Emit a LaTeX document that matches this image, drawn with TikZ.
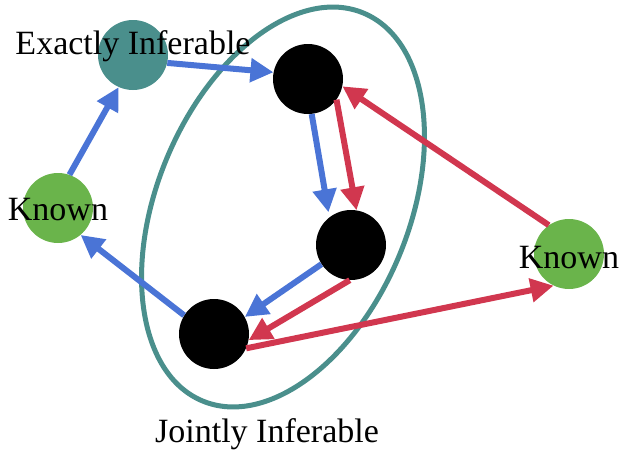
\documentclass[tikz,border=0pt]{standalone}
\usepackage{fontspec}
\setmainfont{Liberation Serif}
\usetikzlibrary{arrows.meta}
\definecolor{teal1}{HTML}{4A8F8C}
\definecolor{green1}{HTML}{6AB44B}
\definecolor{blue1}{HTML}{4A74D6}
\definecolor{red1}{HTML}{D1374F}
\tikzset{
  dot/.style={circle, inner sep=0pt, minimum size=70pt, draw=none},
  lbl/.style={anchor=base, inner sep=0pt, font=\fontsize{34}{38}\selectfont},
  conn/.style={line width=6pt, -{Triangle[length=23pt,width=23pt]}},
  bluearrow/.style={conn, draw=blue1, fill=blue1},
  redarrow/.style={conn, draw=red1, fill=red1},
}
\begin{document}
\begin{tikzpicture}[x=1pt,y=-1pt]
\useasboundingbox (0,0) rectangle (622,450);
% group ellipse
\draw[teal1, line width=5pt, rotate around={-22.5:(283,207)}] (283,207) ellipse [x radius=126pt, y radius=210pt];
% nodes
\node[dot, fill=teal1] (EI) at (133,55) {};
\node[dot, fill=black] (T) at (308,79) {};
\node[dot, fill=black] (M) at (351,245) {};
\node[dot, fill=black] (B) at (214,334) {};
\node[dot, fill=green1] (LG) at (58,208) {};
\node[dot, fill=green1] (RG) at (569,254) {};
% connectors
\draw[bluearrow] (EI.-13) -- (T.169);
\draw[bluearrow] (LG.71) -- (EI.246);
\draw[bluearrow, shorten >=5pt] (T.-84) -- (M.128);
\draw[redarrow] (T.-36) -- (M.81);
\draw[redarrow] (RG.125) -- (T.-12);
\draw[bluearrow] (M.213) -- (B.29);
\draw[redarrow] (M.268) -- (B.-10);
\draw[redarrow] (B.-24) -- (RG.244);
\draw[bluearrow] (B.148) -- (LG.-50);
% labels
\node[lbl] (tEI) at (133,54) {Exactly Inferable};
\node[lbl] (tLG) at (58,220) {Known};
\node[lbl] (tRG) at (569,268) {Known};
\node[lbl] (tJI) at (267,442) {Jointly Inferable};
\end{tikzpicture}
\end{document}
